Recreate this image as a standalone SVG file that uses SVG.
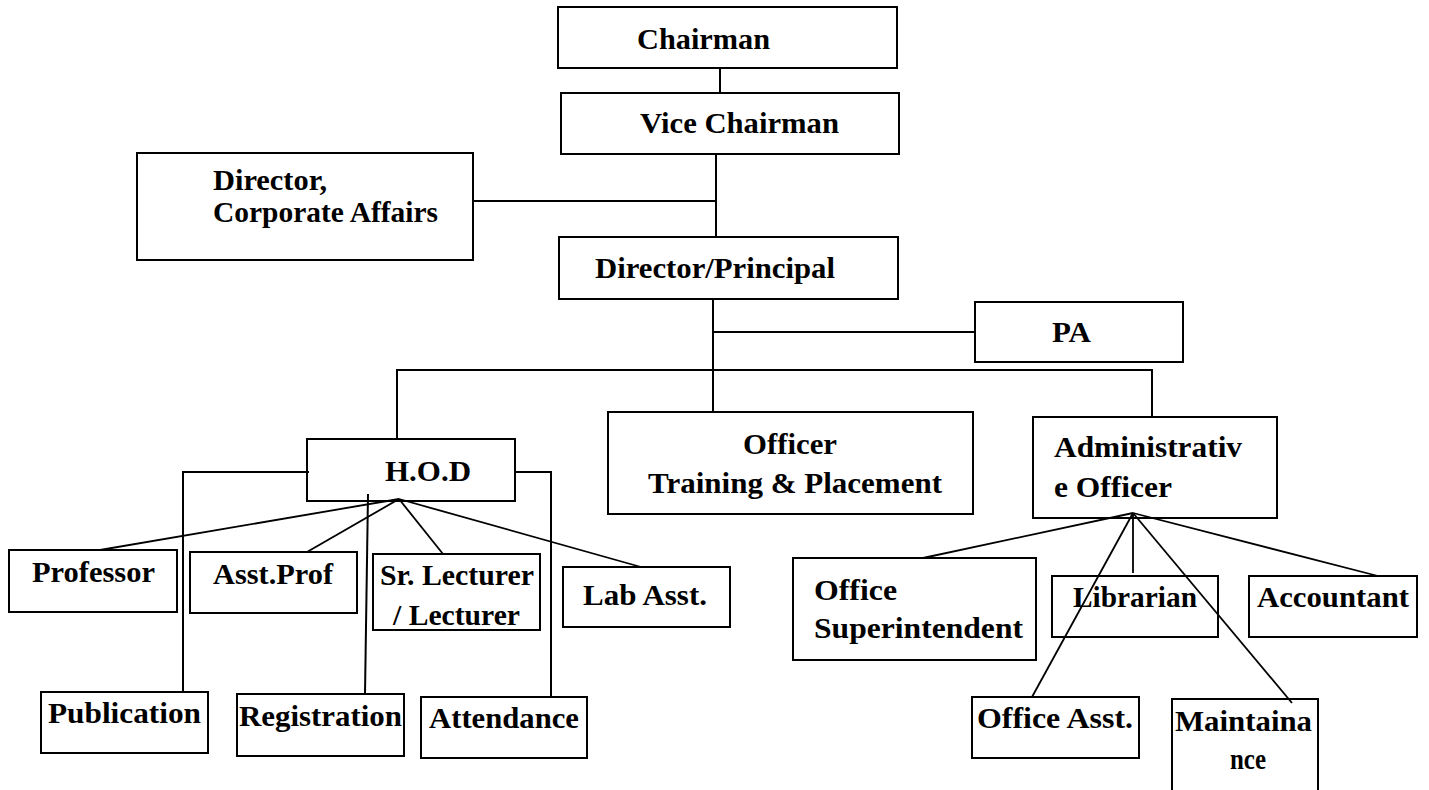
<svg xmlns="http://www.w3.org/2000/svg" width="1429" height="790" viewBox="0 0 1429 790">
<style>
.box{fill:none;stroke:#000;stroke-width:2}
.ln{fill:none;stroke:#000;stroke-width:2}
.fn{fill:none;stroke:#000;stroke-width:1.8}
text{font-family:"Liberation Serif","Times New Roman",serif;font-weight:bold;font-size:29px;fill:#000}
</style>
<rect x="0" y="0" width="1429" height="790" fill="#fff"/>
<g id="connectors">
<line class="ln" x1="720" y1="68" x2="720" y2="93"/>
<line class="ln" x1="716" y1="154" x2="716" y2="237"/>
<line class="ln" x1="473" y1="201" x2="716" y2="201"/>
<line class="ln" x1="713" y1="299" x2="713" y2="412"/>
<line class="ln" x1="713" y1="332" x2="975" y2="332"/>
<polyline class="ln" points="397,439 397,370 1152,370 1152,417"/>
<polyline class="ln" points="309,472 183,472 183,692"/>
<polyline class="ln" points="515,472 551,472 551,697"/>
<line class="ln" x1="368" y1="494" x2="365" y2="694"/>
<line class="fn" x1="399" y1="499" x2="100" y2="550"/>
<line class="fn" x1="399" y1="499" x2="307" y2="552"/>
<line class="fn" x1="399" y1="499" x2="443" y2="554"/>
<line class="fn" x1="399" y1="499" x2="641" y2="567"/>
<line class="fn" x1="1133" y1="513" x2="923" y2="558"/>
<line class="fn" x1="1133" y1="513" x2="1133" y2="573"/>
<line class="fn" x1="1133" y1="513" x2="1378" y2="576"/>
<line class="fn" x1="1133" y1="513" x2="1032" y2="697"/>
<line class="fn" x1="1133" y1="513" x2="1292" y2="703"/>
</g>
<g id="chairman"><rect class="box" x="558" y="7" width="339" height="61"/><text x="637" y="49" textLength="133" lengthAdjust="spacingAndGlyphs">Chairman</text></g>
<g id="vice-chairman"><rect class="box" x="561" y="93" width="338" height="61"/><text x="640" y="133" textLength="199" lengthAdjust="spacingAndGlyphs">Vice Chairman</text></g>
<g id="director-corporate"><rect class="box" x="137" y="153" width="336" height="107"/><text x="213" y="190" textLength="114" lengthAdjust="spacingAndGlyphs">Director,</text><text x="213" y="222" textLength="225" lengthAdjust="spacingAndGlyphs">Corporate Affairs</text></g>
<g id="director-principal"><rect class="box" x="559" y="237" width="339" height="62"/><text x="595" y="278" textLength="240" lengthAdjust="spacingAndGlyphs">Director/Principal</text></g>
<g id="pa"><rect class="box" x="975" y="302" width="208" height="60"/><text x="1052" y="342" textLength="39" lengthAdjust="spacingAndGlyphs">PA</text></g>
<g id="hod"><rect class="box" x="307" y="439" width="208" height="62"/><text x="385" y="481" textLength="86" lengthAdjust="spacingAndGlyphs">H.O.D</text></g>
<g id="officer-tp"><rect class="box" x="608" y="412" width="365" height="102"/><text x="743" y="454" textLength="94" lengthAdjust="spacingAndGlyphs">Officer</text><text x="648" y="493" textLength="294" lengthAdjust="spacingAndGlyphs">Training &amp; Placement</text></g>
<g id="admin-officer"><rect class="box" x="1033" y="417" width="244" height="101"/><text x="1054" y="457" textLength="188" lengthAdjust="spacingAndGlyphs">Administrativ</text><text x="1054" y="497" textLength="118" lengthAdjust="spacingAndGlyphs">e Officer</text></g>
<g id="professor"><rect class="box" x="9" y="550" width="168" height="62"/><text x="32" y="582" textLength="123" lengthAdjust="spacingAndGlyphs">Professor</text></g>
<g id="asst-prof"><rect class="box" x="190" y="552" width="167" height="61"/><text x="213" y="584" textLength="120" lengthAdjust="spacingAndGlyphs">Asst.Prof</text></g>
<g id="sr-lecturer"><rect class="box" x="373" y="554" width="167" height="76"/><text x="380" y="585" textLength="154" lengthAdjust="spacingAndGlyphs">Sr. Lecturer</text><text x="393" y="625" textLength="127" lengthAdjust="spacingAndGlyphs">/ Lecturer</text></g>
<g id="lab-asst"><rect class="box" x="563" y="567" width="167" height="60"/><text x="583" y="605" textLength="124" lengthAdjust="spacingAndGlyphs">Lab Asst.</text></g>
<g id="publication"><rect class="box" x="41" y="692" width="167" height="61"/><text x="48" y="723" textLength="153" lengthAdjust="spacingAndGlyphs">Publication</text></g>
<g id="registration"><rect class="box" x="237" y="694" width="167" height="62"/><text x="239" y="726" textLength="163" lengthAdjust="spacingAndGlyphs">Registration</text></g>
<g id="attendance"><rect class="box" x="421" y="697" width="166" height="61"/><text x="429" y="728" textLength="150" lengthAdjust="spacingAndGlyphs">Attendance</text></g>
<g id="office-superintendent"><rect class="box" x="793" y="558" width="243" height="102"/><text x="814" y="600" textLength="83" lengthAdjust="spacingAndGlyphs">Office</text><text x="814" y="638" textLength="209" lengthAdjust="spacingAndGlyphs">Superintendent</text></g>
<g id="librarian"><rect class="box" x="1052" y="576" width="166" height="61"/><text x="1073" y="607" textLength="124" lengthAdjust="spacingAndGlyphs">Librarian</text></g>
<g id="accountant"><rect class="box" x="1249" y="576" width="168" height="61"/><text x="1257" y="607" textLength="152" lengthAdjust="spacingAndGlyphs">Accountant</text></g>
<g id="office-asst"><rect class="box" x="972" y="697" width="167" height="61"/><text x="977" y="728" textLength="156" lengthAdjust="spacingAndGlyphs">Office Asst.</text></g>
<g id="maintainance"><rect class="box" x="1172" y="699" width="146" height="101"/><text x="1175" y="731" textLength="137" lengthAdjust="spacingAndGlyphs">Maintaina</text><text x="1230" y="769" textLength="36" lengthAdjust="spacingAndGlyphs">nce</text></g>
</svg>
